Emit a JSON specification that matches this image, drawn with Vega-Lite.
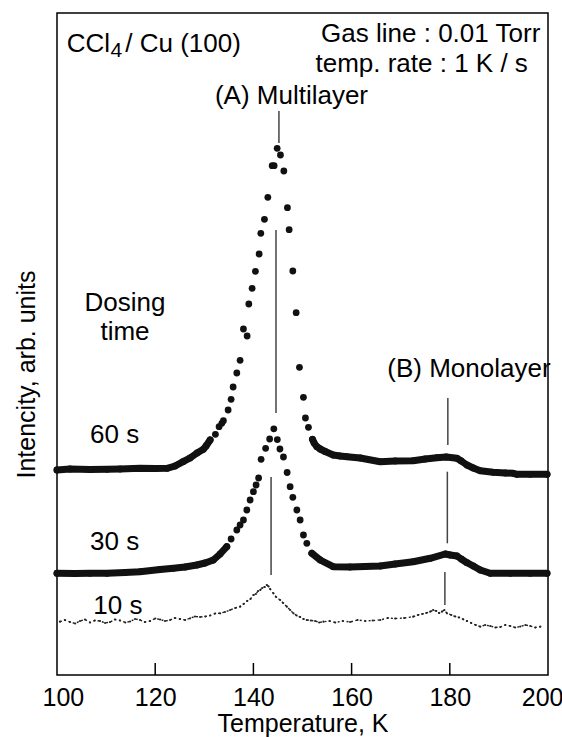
{
  "$schema": "https://vega.github.io/schema/vega-lite/v6.json",
  "width": 491,
  "height": 662,
  "autosize": {"type": "none"},
  "padding": {"left": 57, "top": 13, "right": 14, "bottom": 62},
  "background": "white",
  "config": {
    "font": "Liberation Sans",
    "view": {"stroke": "#000", "strokeWidth": 1.5}
  },
  "datasets": {
    "curves": [
      {"s":"60 s","T":100.0,"v":205},{"s":"60 s","T":102.65,"v":206},{"s":"60 s","T":106.72,"v":205.5},{"s":"60 s","T":110.19,"v":205.7},{"s":"60 s","T":112.84,"v":206},{"s":"60 s","T":116.91,"v":206.7},{"s":"60 s","T":119.97,"v":206.5},{"s":"60 s","T":122.42,"v":206.7},{"s":"60 s","T":124.05,"v":209},{"s":"60 s","T":125.68,"v":213.3},{"s":"60 s","T":127.1,"v":217},{"s":"60 s","T":128.53,"v":222},{"s":"60 s","T":129.81,"v":225.7},{"s":"60 s","T":130.36,"v":229},{"s":"60 s","T":131.18,"v":235},{"s":"60 s","T":132.26,"v":240.7},{"s":"60 s","T":133.01,"v":248.3},{"s":"60 s","T":133.56,"v":251.7},{"s":"60 s","T":133.89,"v":254.3},{"s":"60 s","T":134.85,"v":265},{"s":"60 s","T":135.46,"v":275.7},{"s":"60 s","T":135.87,"v":288},{"s":"60 s","T":136.62,"v":302},{"s":"60 s","T":137.29,"v":314.7},{"s":"60 s","T":137.97,"v":346},{"s":"60 s","T":138.72,"v":339},{"s":"60 s","T":139.07,"v":371},{"s":"60 s","T":139.74,"v":386.7},{"s":"60 s","T":140.41,"v":403.7},{"s":"60 s","T":141.17,"v":421},{"s":"60 s","T":141.51,"v":441.7},{"s":"60 s","T":142.25,"v":455.7},{"s":"60 s","T":142.94,"v":477.7},{"s":"60 s","T":143.82,"v":509.3},{"s":"60 s","T":144.22,"v":509.3},{"s":"60 s","T":144.84,"v":526.7},{"s":"60 s","T":145.51,"v":520},{"s":"60 s","T":146.2,"v":504},{"s":"60 s","T":146.93,"v":467.3},{"s":"60 s","T":147.28,"v":445.3},{"s":"60 s","T":148.03,"v":404},{"s":"60 s","T":148.71,"v":362.3},{"s":"60 s","T":149.38,"v":307.7},{"s":"60 s","T":150.19,"v":277.7},{"s":"60 s","T":150.6,"v":257},{"s":"60 s","T":151.21,"v":247.7},{"s":"60 s","T":152.03,"v":235.7},{"s":"60 s","T":152.37,"v":232},{"s":"60 s","T":152.92,"v":228.3},{"s":"60 s","T":153.6,"v":226},{"s":"60 s","T":154.61,"v":223.5},{"s":"60 s","T":156.25,"v":220},{"s":"60 s","T":157.67,"v":219},{"s":"60 s","T":159.04,"v":218.3},{"s":"60 s","T":161.75,"v":217},{"s":"60 s","T":165.83,"v":213.3},{"s":"60 s","T":168.88,"v":214},{"s":"60 s","T":172.55,"v":214.3},{"s":"60 s","T":175.0,"v":216},{"s":"60 s","T":177.38,"v":217.3},{"s":"60 s","T":179.27,"v":218},{"s":"60 s","T":181.45,"v":216.7},{"s":"60 s","T":182.33,"v":214},{"s":"60 s","T":183.49,"v":210},{"s":"60 s","T":184.78,"v":207},{"s":"60 s","T":186.2,"v":204.3},{"s":"60 s","T":188.85,"v":202.7},{"s":"60 s","T":191.3,"v":202},{"s":"60 s","T":192.93,"v":201.7},{"s":"60 s","T":193.68,"v":200.7},{"s":"60 s","T":196.39,"v":200.7},{"s":"60 s","T":199.8,"v":200.7},
      {"s":"30 s","T":100.0,"v":101.7},{"s":"30 s","T":103.67,"v":101.5},{"s":"30 s","T":106.72,"v":101.7},{"s":"30 s","T":110.19,"v":101.7},{"s":"30 s","T":113.86,"v":102.5},{"s":"30 s","T":116.91,"v":103.3},{"s":"30 s","T":120.99,"v":105.5},{"s":"30 s","T":123.7,"v":106.7},{"s":"30 s","T":126.08,"v":108},{"s":"30 s","T":128.47,"v":110},{"s":"30 s","T":130.16,"v":112},{"s":"30 s","T":131.85,"v":115},{"s":"30 s","T":133.22,"v":121},{"s":"30 s","T":134.58,"v":128.3},{"s":"30 s","T":135.46,"v":136},{"s":"30 s","T":136.62,"v":145},{"s":"30 s","T":137.29,"v":150},{"s":"30 s","T":137.97,"v":155},{"s":"30 s","T":138.66,"v":165},{"s":"30 s","T":139.33,"v":175},{"s":"30 s","T":140.0,"v":183.3},{"s":"30 s","T":140.55,"v":190},{"s":"30 s","T":141.06,"v":197},{"s":"30 s","T":141.57,"v":215.7},{"s":"30 s","T":142.49,"v":226.7},{"s":"30 s","T":143.31,"v":236},{"s":"30 s","T":144.16,"v":246.2},{"s":"30 s","T":144.87,"v":235.4},{"s":"30 s","T":145.4,"v":226},{"s":"30 s","T":146.12,"v":218},{"s":"30 s","T":146.87,"v":202.5},{"s":"30 s","T":147.48,"v":188.3},{"s":"30 s","T":148.03,"v":177.7},{"s":"30 s","T":148.85,"v":165},{"s":"30 s","T":149.52,"v":155},{"s":"30 s","T":150.19,"v":140},{"s":"30 s","T":150.88,"v":131.7},{"s":"30 s","T":151.9,"v":121.7},{"s":"30 s","T":153.6,"v":115},{"s":"30 s","T":156.25,"v":108.3},{"s":"30 s","T":159.66,"v":108},{"s":"30 s","T":162.72,"v":108.5},{"s":"30 s","T":165.83,"v":109},{"s":"30 s","T":168.88,"v":111},{"s":"30 s","T":172.55,"v":113.3},{"s":"30 s","T":176.01,"v":116.7},{"s":"30 s","T":179.07,"v":121},{"s":"30 s","T":180.09,"v":120},{"s":"30 s","T":181.45,"v":119},{"s":"30 s","T":182.33,"v":116},{"s":"30 s","T":183.49,"v":112.3},{"s":"30 s","T":184.78,"v":109},{"s":"30 s","T":186.2,"v":105},{"s":"30 s","T":188.24,"v":101.7},{"s":"30 s","T":192.32,"v":101.7},{"s":"30 s","T":196.39,"v":101.7},{"s":"30 s","T":199.8,"v":101.7}
    ],
    "c10": [
      {"T":100.61,"v":53.3},{"T":101.6,"v":55},{"T":102.65,"v":53},{"T":103.7,"v":51.5},{"T":104.69,"v":54},{"T":105.7,"v":55.5},{"T":106.72,"v":52.5},{"T":107.7,"v":54.5},{"T":108.76,"v":54},{"T":109.8,"v":52},{"T":110.8,"v":53},{"T":111.8,"v":55.5},{"T":112.84,"v":54.5},{"T":113.9,"v":52.5},{"T":114.88,"v":53.5},{"T":115.9,"v":56},{"T":116.91,"v":55},{"T":117.9,"v":53},{"T":118.95,"v":54},{"T":120.0,"v":56.5},{"T":120.99,"v":55.5},{"T":122.0,"v":54},{"T":123.03,"v":55},{"T":124.0,"v":57},{"T":125.07,"v":56},{"T":126.1,"v":55},{"T":127.1,"v":56.7},{"T":128.1,"v":58.5},{"T":129.14,"v":58},{"T":130.2,"v":58.5},{"T":131.18,"v":59.5},{"T":132.2,"v":61.5},{"T":133.22,"v":61.7},{"T":134.2,"v":63},{"T":135.26,"v":65},{"T":136.3,"v":67},{"T":137.29,"v":68.3},{"T":138.0,"v":71},{"T":138.72,"v":74},{"T":139.4,"v":76},{"T":140.0,"v":80},{"T":140.5,"v":81},{"T":140.96,"v":84},{"T":141.4,"v":85},{"T":141.78,"v":87},{"T":142.3,"v":88},{"T":142.73,"v":90},{"T":143.1,"v":88.5},{"T":143.41,"v":86},{"T":144.08,"v":81.7},{"T":144.63,"v":78},{"T":145.44,"v":75},{"T":146.06,"v":72},{"T":146.81,"v":68.3},{"T":147.48,"v":65},{"T":148.16,"v":61.7},{"T":148.8,"v":59.5},{"T":149.52,"v":58},{"T":150.2,"v":56},{"T":150.88,"v":55},{"T":151.7,"v":54.5},{"T":152.58,"v":54},{"T":153.4,"v":52.5},{"T":154.27,"v":53.3},{"T":155.5,"v":54},{"T":156.65,"v":52.5},{"T":158.2,"v":54},{"T":159.71,"v":53},{"T":161.2,"v":55},{"T":162.77,"v":54},{"T":164.3,"v":54.5},{"T":165.83,"v":55},{"T":167.4,"v":57},{"T":168.88,"v":56.5},{"T":170.7,"v":57},{"T":172.55,"v":58.3},{"T":173.5,"v":60},{"T":174.38,"v":61},{"T":175.2,"v":62},{"T":176.01,"v":63.3},{"T":176.6,"v":65},{"T":177.24,"v":64},{"T":177.8,"v":62},{"T":178.4,"v":63.3},{"T":178.9,"v":65},{"T":179.42,"v":61.7},{"T":180.3,"v":60},{"T":181.11,"v":58.5},{"T":181.9,"v":57.5},{"T":182.74,"v":55.7},{"T":183.5,"v":54},{"T":184.37,"v":52},{"T":185.3,"v":50},{"T":186.2,"v":48.3},{"T":187.2,"v":50},{"T":188.24,"v":49},{"T":189.3,"v":47.5},{"T":190.28,"v":48},{"T":191.3,"v":50},{"T":192.32,"v":49},{"T":193.3,"v":47.5},{"T":194.36,"v":48.5},{"T":195.4,"v":50},{"T":196.39,"v":49},{"T":197.4,"v":47.5},{"T":198.43,"v":48.3}
    ],
    "markers": [
      {"T":145.2,"v":564,"v2":532},{"T":144.6,"v":445,"v2":262},{"T":143.6,"v":198,"v2":100},
      {"T":179.6,"v":277,"v2":230},{"T":179.5,"v":203.3,"v2":131.7},{"T":179.0,"v":103,"v2":70}
    ],
    "ticks": [
      {"T":120,"v":0,"v2":12},{"T":140,"v":0,"v2":12},{"T":160,"v":0,"v2":12},{"T":180,"v":0,"v2":12}
    ],
    "textLeft": [
      {"T":101.98,"v":623.3,"text":"CCl"},{"T":113.9,"v":623.3,"text":"/ Cu (100)"},
      {"T":106.72,"v":231.7,"text":"60 s"},{"T":106.72,"v":125,"text":"30 s"},{"T":107.39,"v":61,"text":"10 s"}
    ],
    "textSub": [
      {"T":110.9,"v":617.7,"text":"4"}
    ],
    "textCenter": [
      {"T":147.75,"v":571,"text":"(A) Multilayer"},{"T":183.9,"v":298,"text":"(B) Monolayer"},
      {"T":113.85,"v":364,"text":"Dosing"},{"T":113.85,"v":335,"text":"time"}
    ],
    "textRight": [
      {"T":198.43,"v":632.6,"text":"Gas line : 0.01 Torr"},{"T":195.9,"v":603.2,"text":"temp. rate : 1 K / s"}
    ]
  },
  "encoding": {
    "x": {
      "field": "T", "type": "quantitative",
      "scale": {"domain": [100, 200], "nice": false, "zero": false},
      "axis": {
        "values": [100, 120, 140, 160, 180, 200], "ticks": false, "grid": false, "domain": false,
        "labelFontSize": 25, "labelColor": "#000", "labelPadding": 10,
        "labelFlush": true, "labelFlushOffset": 15,
        "title": "Temperature, K", "titleFontSize": 25, "titleFontWeight": "normal",
        "titleColor": "#000", "titlePadding": 1
      }
    },
    "y": {
      "field": "v", "type": "quantitative",
      "scale": {"domain": [0, 662], "nice": false, "zero": false},
      "axis": {
        "labels": false, "ticks": false, "grid": false, "domain": false,
        "title": "Intencity, arb. units", "titleFontSize": 25, "titleFontWeight": "normal",
        "titleColor": "#000", "titleX": -23, "titleY": 361, "titleBaseline": "alphabetic", "titleAngle": 270
      }
    }
  },
  "layer": [
    {
      "data": {"name": "ticks"},
      "mark": {"type": "rule", "color": "#000", "strokeWidth": 1.5},
      "encoding": {"y2": {"field": "v2"}}
    },
    {
      "data": {"name": "markers"},
      "mark": {"type": "rule", "color": "#444", "strokeWidth": 1.5},
      "encoding": {"y2": {"field": "v2"}}
    },
    {
      "data": {"name": "curves"},
      "transform": [
        {"filter": "(datum.s == '60 s' && (datum.T <= 131.2 || datum.T >= 151.9)) || (datum.s == '30 s' && (datum.T <= 134.6 || datum.T >= 151.9))"},
        {"calculate": "datum.s + (datum.T < 145 ? 'L' : 'R')", "as": "grp"}
      ],
      "mark": {"type": "line", "color": "#111", "strokeWidth": 7, "strokeJoin": "round", "strokeCap": "round"},
      "encoding": {"detail": {"field": "grp"}}
    },
    {
      "data": {"name": "curves"},
      "mark": {"type": "circle", "color": "#111", "size": 46, "opacity": 1},
      "encoding": {}
    },
    {
      "data": {"name": "c10"},
      "mark": {"type": "line", "color": "#222", "strokeWidth": 1.4, "strokeDash": [2, 2.5]},
      "encoding": {}
    },
    {
      "data": {"name": "c10"},
      "mark": {"type": "circle", "color": "#222", "size": 5, "opacity": 1},
      "encoding": {}
    },
    {
      "data": {"name": "textLeft"},
      "mark": {"type": "text", "align": "left", "baseline": "alphabetic", "fontSize": 26, "color": "#000"},
      "encoding": {"text": {"field": "text"}}
    },
    {
      "data": {"name": "textSub"},
      "mark": {"type": "text", "align": "left", "baseline": "alphabetic", "fontSize": 21, "color": "#000"},
      "encoding": {"text": {"field": "text"}}
    },
    {
      "data": {"name": "textCenter"},
      "mark": {"type": "text", "align": "center", "baseline": "alphabetic", "fontSize": 26, "color": "#000"},
      "encoding": {"text": {"field": "text"}}
    },
    {
      "data": {"name": "textRight"},
      "mark": {"type": "text", "align": "right", "baseline": "alphabetic", "fontSize": 26, "color": "#000"},
      "encoding": {"text": {"field": "text"}}
    }
  ]
}
